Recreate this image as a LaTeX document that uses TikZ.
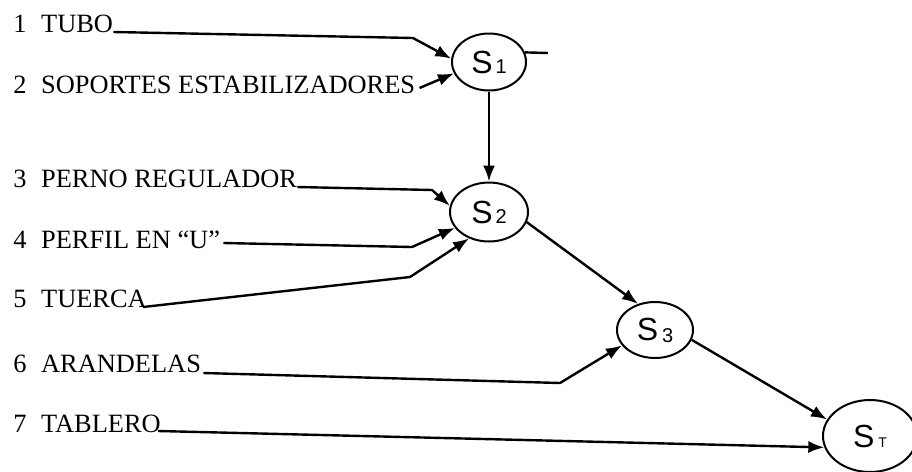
\documentclass[tikz,border=0pt]{standalone}
\usepackage{fontspec}
\setmainfont{Liberation Serif}
\setsansfont{Liberation Sans}
\usetikzlibrary{arrows.meta,calc,shapes.geometric}
\begin{document}
\begin{tikzpicture}[x=0.5pt,y=-0.5pt,
  lbl/.style={anchor=base west,inner sep=0pt,font=\fontsize{13.2}{15}\selectfont},
  stage/.style={ellipse,draw,line width=1pt,inner sep=0pt,font=\sffamily\fontsize{16}{18}\selectfont},
  sub/.style={},
  con/.style={line width=1.2pt,-{Latex[length=8pt,width=6pt]}},
  plain/.style={line width=1.2pt}]
\path[use as bounding box] (0,0) rectangle (912,472);
% labels
\node[lbl] (t1) at (13,32)  {1\hspace{0.55em}TUBO};
\node[lbl] (t2) at (13,93)  {2\hspace{0.55em}SOPORTES ESTABILIZADORES};
\node[lbl] (t3) at (13,187) {3\hspace{0.55em}PERNO REGULADOR};
\node[lbl] (t4) at (13,248) {4\hspace{0.55em}PERFIL EN “U”};
\node[lbl] (t5) at (13,307) {5\hspace{0.55em}TUERCA};
\node[lbl] (t6) at (13,372) {6\hspace{0.55em}ARANDELAS};
\node[lbl] (t7) at (13,432) {7\hspace{0.55em}TABLERO};
% stages
\node[stage,minimum width=37pt,minimum height=28.5pt] (s1) at (489,62)
  {S\kern1.5pt{\fontsize{10}{10}\selectfont 1}};
\node[stage,minimum width=39pt,minimum height=29.5pt] (s2) at (489,212)
  {S\kern1.5pt{\fontsize{10}{10}\selectfont 2}};
\node[stage,minimum width=38pt,minimum height=28pt] (s3) at (655,330)
  {S\kern2pt\raisebox{-1pt}{\fontsize{10}{10}\selectfont 3}};
\node[stage,minimum width=47pt,minimum height=36pt] (st) at (870,436)
  {S\kern2pt{\fontsize{7}{7}\selectfont T}};
\coordinate (tail) at (548,53);
% connectors
\draw[con] (t1.base east) -- (413,38) -- (s1.175);
\draw[con] ($(t2.base east)+(4,-5)$) -- (s1.198);
\draw[plain] (s1.15) -- (tail);
\draw[con] (s1.south) -- (s2.north);
\draw[con] (t3.base east) -- (432,190) -- (s2.171);
\draw[con] ($(t4.base east)+(3,-5)$) -- (412,247) -- (s2.205);
\draw[con] ($(t5.base east)+(-4,0)$) -- (410,277) -- (s2.233);
\draw[con] (s2.-15) -- (s3.123);
\draw[con] ($(t6.base east)+(2,1)$) -- (560,383) -- (s3.205);
\draw[con] (s3.-15) -- (st.159);
\draw[con] ($(t7.base east)+(-3,-1)$) -- (st.194);
\end{tikzpicture}
\end{document}
